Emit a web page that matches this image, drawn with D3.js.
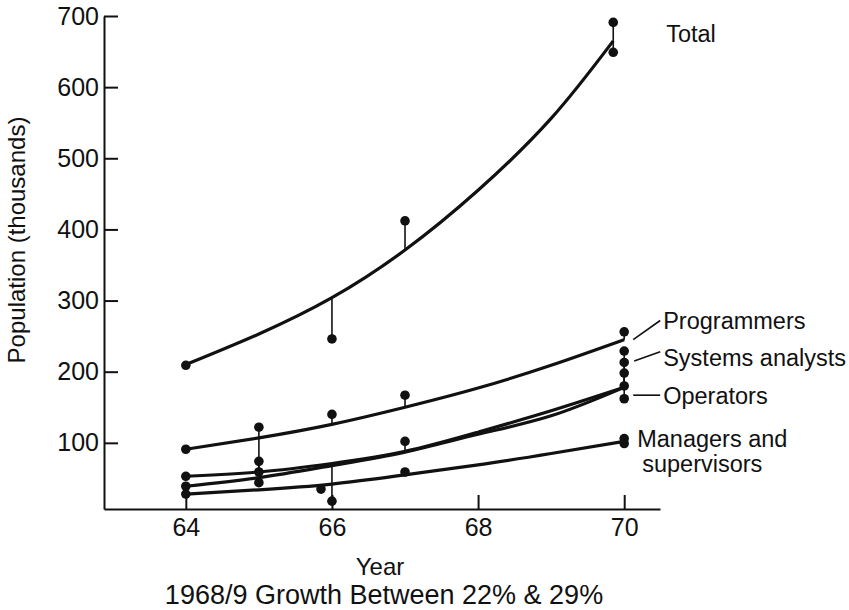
<!DOCTYPE html>
<head>
  <meta charset="utf-8">
  <script src="https://d3js.org/d3.v7.min.js"></script>
  <style>
    body {
      margin: 0;
      background-color: #fff;
    }
    text {
      font-family: "Liberation Sans", Arial, sans-serif;
      fill: #111;
    }
    .axis path, .axis line {
      stroke: #111;
      stroke-width: 2px;
    }
    .axis text {
      font-size: 25px;
    }
    .label {
      font-size: 23.5px;
    }
    .trend {
      fill: none;
      stroke: #111;
      stroke-width: 3.2px;
    }
    .stem {
      stroke: #111;
      stroke-width: 1.6px;
    }
    .dot {
      fill: #111;
    }
  </style>
</head>

<body>
  <script>
    // values (thousands)
    var years = [64, 65, 66, 67, 68, 69, 70];
    var totalYears = [64, 65, 66, 67, 68, 69, 69.85];

    var totalTrend = [210, 253, 304, 371, 455, 556, 665];
    var programmersTrend = [91, 107, 126, 150, 177, 209, 245];
    var analystsTrend = [53, 59, 71, 88, 115, 145, 178];
    var operatorsTrend = [39, 51, 68, 87, 112, 138, 178];
    var managersTrend = [28, 34, 42, 55, 69, 85, 102];

    // observed points [year, value]
    var totalDots = [[64, 209], [66, 246], [67, 412], [69.85, 691], [69.85, 649]];
    var programmersDots = [[64, 91], [66, 140], [67, 167], [70, 256]];
    var analystsDots = [[64, 53], [65, 122], [65, 74], [65, 59], [67, 102], [70, 229], [70, 213], [70, 198]];
    var operatorsDots = [[64, 39], [65, 44], [66, 18], [70, 180], [70, 162]];
    var managersDots = [[64, 28], [65.85, 35], [67, 59], [70, 106], [70, 99]];

    var xTicks = [64, 66, 68, 70];
    var yTicks = [100, 200, 300, 400, 500, 600, 700];

    var width = 849,
        height = 610;

    var svg = d3.select("body").append("svg")
      .attr("width", width)
      .attr("height", height);

    var x = d3.scaleLinear()
      .domain([62.88, 70.49])
      .range([104, 660]);

    var y = d3.scaleLinear()
      .domain([7, 700])
      .range([509, 16]);

    // axes, ticks point inwards
    svg.append("g")
      .attr("class", "axis")
      .attr("transform", "translate(0,509)")
      .call(d3.axisBottom(x).tickValues(xTicks).tickSize(-14).tickSizeOuter(0).tickPadding(9));

    svg.append("g")
      .attr("class", "axis")
      .attr("transform", "translate(104,0)")
      .call(d3.axisLeft(y).tickValues(yTicks).tickSize(-14).tickSizeOuter(0).tickPadding(5));

    var series = [
      { xs: totalYears, trend: totalTrend, dots: totalDots },
      { xs: years, trend: programmersTrend, dots: programmersDots },
      { xs: years, trend: analystsTrend, dots: analystsDots },
      { xs: years, trend: operatorsTrend, dots: operatorsDots },
      { xs: years, trend: managersTrend, dots: managersDots }
    ];

    var line = d3.line()
      .x(function(d) { return x(d[0]); })
      .y(function(d) { return y(d[1]); })
      .curve(d3.curveNatural);

    series.forEach(function(s) {
      var pts = s.xs.map(function(v, i) { return [v, s.trend[i]]; });
      var onCurve = d3.scaleLinear().domain(s.xs).range(s.trend);

      // stems from each observation to the trend
      svg.append("g").selectAll("line")
        .data(s.dots)
        .enter().append("line")
        .attr("class", "stem")
        .attr("x1", function(d) { return x(d[0]); })
        .attr("x2", function(d) { return x(d[0]); })
        .attr("y1", function(d) { return y(d[1]); })
        .attr("y2", function(d) { return y(onCurve(d[0])); });

      svg.append("path")
        .datum(pts)
        .attr("class", "trend")
        .attr("d", line);

      svg.append("g").selectAll("circle")
        .data(s.dots)
        .enter().append("circle")
        .attr("class", "dot")
        .attr("cx", function(d) { return x(d[0]); })
        .attr("cy", function(d) { return y(d[1]); })
        .attr("r", 4.8);
    });

    // series labels and leaders
    var lx = x(70);
    svg.append("text").attr("class", "label").attr("x", lx + 42).attr("y", y(663)).text("Total");

    function leader(x1, y1, x2, y2) {
      svg.append("line").attr("class", "stem")
        .attr("x1", x1).attr("y1", y1).attr("x2", x2).attr("y2", y2);
    }
    leader(lx + 9, y(245), lx + 36, y(272));
    svg.append("text").attr("class", "label").attr("x", lx + 39).attr("y", y(260)).text("Programmers");

    leader(lx + 10, y(215), lx + 36, y(228));
    svg.append("text").attr("class", "label").attr("x", lx + 39).attr("y", y(208)).text("Systems analysts");

    leader(lx + 9, y(167), lx + 36, y(167));
    svg.append("text").attr("class", "label").attr("x", lx + 39).attr("y", y(155)).text("Operators");

    svg.append("text").attr("class", "label").attr("x", lx + 13).attr("y", y(94)).text("Managers and");
    svg.append("text").attr("class", "label").attr("x", lx + 18).attr("y", y(59)).text("supervisors");

    // titles
    svg.append("text")
      .attr("transform", "translate(25,240) rotate(-90)")
      .attr("text-anchor", "middle")
      .style("font-size", "24px")
      .text("Population (thousands)");

    svg.append("text")
      .attr("x", 380).attr("y", 575)
      .attr("text-anchor", "middle")
      .style("font-size", "24px")
      .text("Year");

    svg.append("text")
      .attr("x", 384).attr("y", 604)
      .attr("text-anchor", "middle")
      .style("font-size", "27px")
      .text("1968/9 Growth Between 22% & 29%");
  </script>
</body>
